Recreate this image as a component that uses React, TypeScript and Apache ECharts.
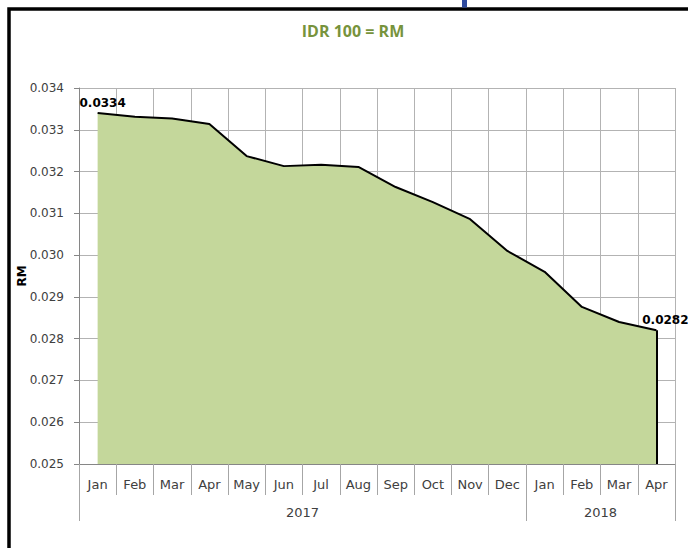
import React, { useEffect, useRef } from "react";
import * as echarts from "echarts";

const months = ["Jan", "Feb", "Mar", "Apr", "May", "Jun", "Jul", "Aug", "Sep", "Oct", "Nov", "Dec", "Jan", "Feb", "Mar", "Apr"];
const rates = [0.0334, 0.03331, 0.03327, 0.03314, 0.03237, 0.03213, 0.03216, 0.03211, 0.03163, 0.03127, 0.03086, 0.0301, 0.0296, 0.02876, 0.0284, 0.0282];
const years = ["2017", "2018"];
const yearBounds = [0, 12, 16];
const yearCenters = [6, 14];
const yTicks = { min: 0.025, max: 0.034, step: 0.001 };

export default function App() {
  const ref = useRef<HTMLDivElement>(null);
  useEffect(() => {
    document.body.style.margin = "0";
    const chart = echarts.init(ref.current!, undefined, { renderer: "svg" });
    const last = rates.length - 1;
    const seriesData = rates.map((v, i) => {
      if (i === 0) return { value: v, label: { show: true, position: "top", offset: [5, 0], formatter: () => v.toFixed(4) } };
      if (i === last) return { value: v, label: { show: true, position: "top", offset: [9, 0], formatter: () => v.toFixed(4) } };
      return { value: v, label: { show: false } };
    });
    const font = "DejaVu Sans";
    const gridPos = { left: 79, right: 13, top: 88, bottom: 84 };
    chart.setOption({
      animation: false,
      backgroundColor: "#ffffff",
      grid: [
        { ...gridPos, containLabel: false },
        { ...gridPos, containLabel: false },
      ],
      graphic: [
        { type: "rect", shape: { x: 9, y: 9, width: 720, height: 600 }, style: { fill: "none", stroke: "#000", lineWidth: 3.5 }, z: 100 },
        { type: "rect", shape: { x: 462, y: 0, width: 5, height: 7.5 }, style: { fill: "#2e4a9e" }, z: 100 },
        { type: "text", x: 353, y: 31, style: { text: "IDR 100 = RM", font: "bold 16px 'Open Sans'", fill: "#77933c", align: "center", verticalAlign: "middle" }, z: 100 },
      ],
      xAxis: [
        {
          type: "category",
          gridIndex: 0,
          data: months,
          boundaryGap: true,
          axisLine: { lineStyle: { color: "#868686", width: 1 } },
          axisTick: { show: true, alignWithLabel: false, length: 31, lineStyle: { color: "#a6a6a6" } },
          axisLabel: { fontFamily: font, fontSize: 13, color: "#404040", margin: 14, interval: 0 },
          splitLine: { show: true, lineStyle: { color: "#b3b3b3", width: 1 } },
        },
        {
          type: "value",
          gridIndex: 1,
          min: 0,
          max: 16,
          position: "bottom",
          axisLine: { show: false },
          axisTick: { show: true, length: 57, customValues: yearBounds, lineStyle: { color: "#a6a6a6" } },
          axisLabel: {
            show: true,
            customValues: yearCenters,
            fontFamily: font,
            fontSize: 13,
            color: "#404040",
            margin: 42,
            formatter: (v: number) => years[yearCenters.indexOf(v)] ?? "",
          },
          splitLine: { show: false },
        },
      ],
      yAxis: [
        {
          type: "value",
          gridIndex: 0,
          min: yTicks.min,
          max: yTicks.max,
          interval: yTicks.step,
          name: "RM",
          nameLocation: "middle",
          nameGap: 51,
          nameMoveOverlap: false,
          nameTextStyle: { fontFamily: font, fontSize: 12, fontWeight: "bold", color: "#000" },
          axisLine: { show: true, lineStyle: { color: "#868686" } },
          axisTick: { show: true, length: 5, lineStyle: { color: "#868686" } },
          axisLabel: { fontFamily: font, fontSize: 12, color: "#404040", margin: 15, formatter: (v: number) => v.toFixed(3) },
          splitLine: { show: true, lineStyle: { color: "#b3b3b3", width: 1 } },
        },
        { type: "value", gridIndex: 1, min: 0, max: 1, show: false },
      ],
      series: [
        {
          type: "line",
          xAxisIndex: 0,
          yAxisIndex: 0,
          data: seriesData,
          symbol: "circle",
          symbolSize: 0,
          showSymbol: true,
          itemStyle: { color: "#000" },
          lineStyle: { color: "#000", width: 2 },
          areaStyle: { color: "#c4d79b", opacity: 1, origin: "start" },
          label: { fontFamily: font, fontSize: 12, fontWeight: "bold", color: "#000", distance: 4 },
          markLine: {
            silent: true,
            symbol: "none",
            label: { show: false },
            lineStyle: { color: "#000", width: 2, type: "solid" },
            data: [[{ coord: [last, rates[last]] }, { coord: [last, yTicks.min] }]],
          },
          z: 3,
        },
      ],
    });
    return () => chart.dispose();
  }, []);
  return <div ref={ref} style={{ width: 688, height: 548 }} />;
}
